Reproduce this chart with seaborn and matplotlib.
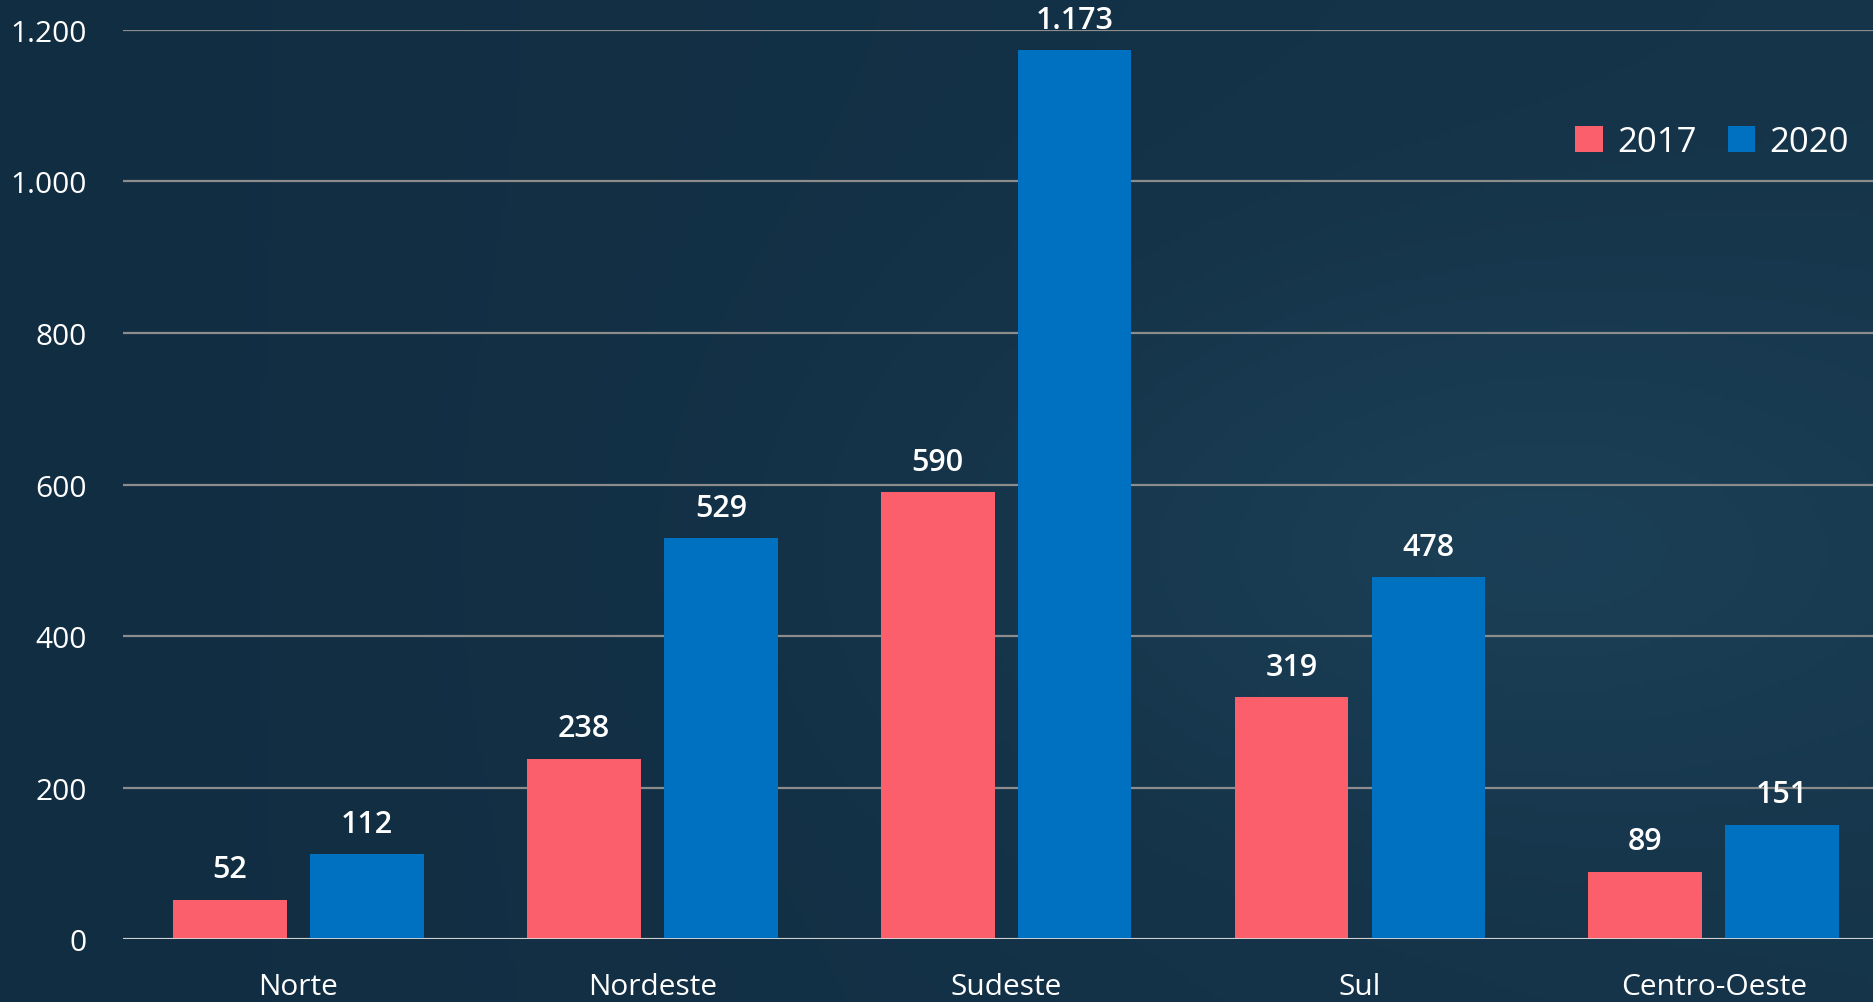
import numpy as np
import pandas as pd
import matplotlib.pyplot as plt
import seaborn as sns
from matplotlib.colors import LinearSegmentedColormap

# ===[ Data ]===
regions = ['Norte', 'Nordeste', 'Sudeste', 'Sul', 'Centro-Oeste']
years = ['2017', '2020']
vals_2017 = [52, 238, 590, 319, 89]
vals_2020 = [112, 529, 1173, 478, 151]
y_ticks = [0, 200, 400, 600, 800, 1000, 1200]

BG = '#112d42'
RED = '#fb5f6c'
BLUE = '#0070c0'


def fmt(v):
    return f"{int(v):,}".replace(',', '.')


def main():
    df = pd.DataFrame({
        'regiao': regions * 2,
        'ano': [years[0]] * len(regions) + [years[1]] * len(regions),
        'valor': vals_2017 + vals_2020,
    })

    sns.set_style('white')
    plt.rcParams['font.family'] = ['Open Sans', 'DejaVu Sans']

    fig = plt.figure(figsize=(18.73, 10.03), dpi=100)
    fig.patch.set_facecolor(BG)

    # soft background gradient (dark left -> a bit lighter right)
    bg = fig.add_axes([0, 0, 1, 1], zorder=-10)
    gx = np.linspace(0, 1, 400)
    gy = np.linspace(0, 1, 200)
    X, Y = np.meshgrid(gx, gy)
    grad = np.clip(0.35 * X + 0.55 * np.exp(-((X - 0.8) ** 2 + (Y - 0.55) ** 2) / 0.08), 0, 1)
    cmap = LinearSegmentedColormap.from_list('bg', [BG, '#1d4259'])
    bg.imshow(grad, cmap=cmap, aspect='auto', extent=[0, 1, 0, 1], vmin=0, vmax=1)
    bg.axis('off')

    ax = fig.add_axes([0.0657, 0.0628, 0.9343, 0.9063])
    ax.patch.set_alpha(0)

    sns.barplot(data=df, x='regiao', y='valor', hue='ano',
                palette=[RED, BLUE], width=0.774, gap=0.17,
                saturation=1, edgecolor='none', linewidth=0,
                ax=ax, zorder=3)

    for cont in ax.containers:
        ax.bar_label(cont, labels=[fmt(v) for v in cont.datavalues],
                     padding=11, color='white', fontsize=22,
                     fontweight='semibold', clip_on=False)

    ax.set_xlim(-0.496, 4.45)
    ax.set_ylim(0, 1200)
    ax.set_yticks(y_ticks)
    ax.set_yticklabels([fmt(t) for t in y_ticks])
    ax.yaxis.grid(True, color='#8c8c8c', linewidth=1.6, zorder=0)
    ax.set_axisbelow(True)
    for s in ax.spines.values():
        s.set_visible(False)
    ax.axhline(0, color='#d9d9d9', linewidth=2, zorder=4)

    ax.tick_params(axis='y', colors='white', labelsize=21.5, length=0, pad=26)
    ax.tick_params(axis='x', colors='white', labelsize=21.5, length=0, pad=24)
    ax.set_xlabel('')
    ax.set_ylabel('')

    ax.legend(loc='upper right', bbox_to_anchor=(1.004, 0.93),
              ncol=2, frameon=False, fontsize=25,
              handlelength=0.8, handleheight=0.8,
              handletextpad=0.4, columnspacing=0.9,
              labelcolor='white')

    fig.savefig('out.png', dpi=100, facecolor=fig.get_facecolor())


if __name__ == '__main__':
    main()
